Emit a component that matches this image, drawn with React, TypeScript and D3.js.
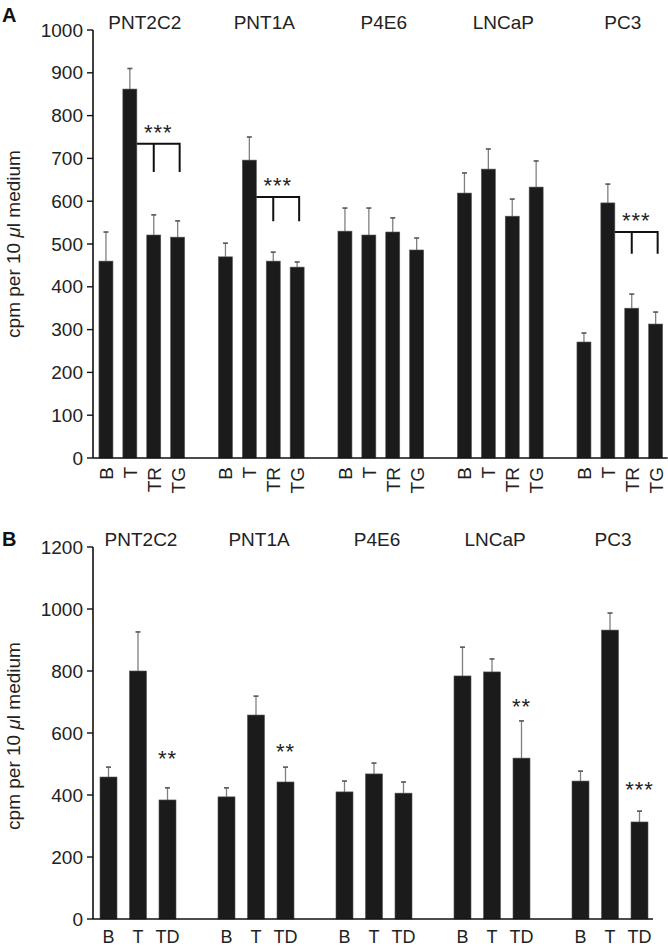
import React from "react";
import * as d3 from "d3";

// ---------- data ----------
const groups = ["PNT2C2", "PNT1A", "P4E6", "LNCaP", "PC3"];

// Panel A
const condA = ["B", "T", "TR", "TG"];
const aB = [460, 470, 530, 619, 271];
const aT = [862, 696, 521, 675, 596];
const aTR = [521, 460, 528, 565, 350];
const aTG = [516, 446, 486, 633, 313];
const aB_err = [68, 32, 54, 47, 21];
const aT_err = [48, 54, 63, 47, 44];
const aTR_err = [47, 21, 33, 40, 33];
const aTG_err = [38, 12, 28, 61, 28];
const aTicks = [0, 100, 200, 300, 400, 500, 600, 700, 800, 900, 1000];
// significance brackets (group index, bracket top value, tick bottom value)
const aBracketGroups = [0, 1, 4];
const aBracketTop = [734, 610, 528];
const aBracketBottom = [668, 553, 477];
const aBracketLabel = ["***", "***", "***"];

// Panel B
const condB = ["B", "T", "TD"];
const bB = [458, 394, 410, 784, 445];
const bT = [800, 658, 468, 797, 932];
const bTD = [384, 442, 406, 519, 313];
const bB_err = [32, 29, 35, 93, 32];
const bT_err = [126, 61, 35, 42, 55];
const bTD_err = [39, 48, 36, 120, 35];
const bTicks = [0, 200, 400, 600, 800, 1000, 1200];
const bStarGroups = [0, 1, 3, 4];
const bStarValue = [539, 561, 706, 439];
const bStarLabel = ["**", "**", "**", "***"];

const yLabelA = "cpm per 10 ";
const yLabelMu = "\u03bc";
const yLabelB = "l medium";

const FONT = "'Liberation Sans', Arial, Helvetica, sans-serif";
const TXT = "#222";
const BAR = "#1b1b1b";
const ERR = "#808080";

type Panel = {
  conds: string[];
  means: number[][]; // [cond][group]
  errs: number[][];
  ticks: number[];
  yMax: number;
  y0: number;
  y1: number;
  xStart: number;
  step: number;
  barW: number;
};

function buildBars(p: Panel) {
  const slotsPer = p.conds.length + 1;
  const n = groups.length * slotsPer;
  const pi = 1 - p.barW / p.step;
  const x = d3
    .scaleBand<number>()
    .domain(d3.range(n))
    .range([p.xStart, p.xStart + n * p.step])
    .paddingInner(pi)
    .paddingOuter(pi / 2);
  const y = d3.scaleLinear().domain([0, p.yMax]).range([p.y0, p.y1]);
  const bars: { g: number; c: number; x: number; w: number; v: number; e: number; cond: string }[] = [];
  groups.forEach((_, g) => {
    p.conds.forEach((cond, c) => {
      const slot = g * slotsPer + c;
      bars.push({ g, c, x: x(slot)!, w: x.bandwidth(), v: p.means[c][g], e: p.errs[c][g], cond });
    });
  });
  return { x, y, bars, slotsPer };
}

function YAxis({ y, ticks, x0 }: { y: d3.ScaleLinear<number, number>; ticks: number[]; x0: number }) {
  const top = y(ticks[ticks.length - 1]);
  const bot = y(0);
  return (
    <g>
      <line x1={x0} x2={x0} y1={top} y2={bot} stroke="#111" strokeWidth={1.6} />
      {ticks.map((t) => (
        <g key={t}>
          <line x1={x0 - 6} x2={x0} y1={y(t)} y2={y(t)} stroke="#111" strokeWidth={1.4} />
          <text x={x0 - 10} y={y(t)} dy="0.35em" textAnchor="end" fontSize={19} fill={TXT} fontFamily={FONT}>
            {t}
          </text>
        </g>
      ))}
    </g>
  );
}

function Bars({ bars, y }: { bars: ReturnType<typeof buildBars>["bars"]; y: d3.ScaleLinear<number, number> }) {
  return (
    <g>
      {bars.map((b, i) => {
        const cx = b.x + b.w / 2;
        return (
          <g key={i}>
            <line x1={cx} x2={cx} y1={y(b.v)} y2={y(b.v + b.e)} stroke={ERR} strokeWidth={1.3} />
            <line x1={cx - 2.5} x2={cx + 2.5} y1={y(b.v + b.e)} y2={y(b.v + b.e)} stroke="#555" strokeWidth={1.6} />
            <rect x={b.x} y={y(b.v)} width={b.w} height={y(0) - y(b.v)} fill={BAR} stroke="#555" strokeWidth={0.6} />
          </g>
        );
      })}
    </g>
  );
}

function YLabel({ x, y }: { x: number; y: number }) {
  return (
    <text transform={`translate(${x},${y}) rotate(-90)`} textAnchor="middle" fontSize={19} fontFamily={FONT} fill={TXT}>
      {yLabelA}
      <tspan fontStyle="italic">{yLabelMu}</tspan>
      {yLabelB}
    </text>
  );
}

export default function App() {
  // ---------- Panel A ----------
  const pA: Panel = {
    conds: condA,
    means: [aB, aT, aTR, aTG],
    errs: [aB_err, aT_err, aTR_err, aTG_err],
    ticks: aTicks,
    yMax: 1000,
    y0: 458,
    y1: 30,
    xStart: 94,
    step: 23.9,
    barW: 14,
  };
  const A = buildBars(pA);
  const axX = 93;

  // ---------- Panel B ----------
  const pB: Panel = {
    conds: condB,
    means: [bB, bT, bTD],
    errs: [bB_err, bT_err, bTD_err],
    ticks: bTicks,
    yMax: 1200,
    y0: 919,
    y1: 547,
    xStart: 93.75,
    step: 29.5,
    barW: 17,
  };
  const B = buildBars(pB);

  const groupCenter = (P: ReturnType<typeof buildBars>, g: number, nc: number) => {
    const first = P.bars.find((b) => b.g === g && b.c === 0)!;
    const last = P.bars.find((b) => b.g === g && b.c === nc - 1)!;
    return (first.x + last.x + last.w) / 2;
  };

  const lastA = A.bars[A.bars.length - 1];
  const lastB = B.bars[B.bars.length - 1];

  return (
    <svg width={668} height={948} style={{ position: "absolute", left: 0, top: 0, background: "#fff" }}>
      <rect width={668} height={948} fill="#fff" />
      {/* ===== Panel A ===== */}
      <text x={2} y={22} fontSize={20} fontWeight="bold" fontFamily={FONT} fill="#111">A</text>
      <YLabel x={20} y={244} />
      {groups.map((g, i) => (
        <text key={g} x={groupCenter(A, i, condA.length) + 3} y={29} textAnchor="middle" fontSize={19} fontFamily={FONT} fill={TXT}>
          {g}
        </text>
      ))}
      <Bars bars={A.bars} y={A.y} />
      <YAxis y={A.y} ticks={aTicks} x0={axX} />
      <line x1={axX} x2={lastA.x + lastA.w + 5} y1={A.y(0)} y2={A.y(0)} stroke="#111" strokeWidth={1.6} />
      {A.bars.map((b, i) => (
        <text
          key={i}
          transform={`translate(${b.x + b.w / 2 + 7},${A.y(0) + 9}) rotate(-90)`}
          textAnchor="end"
          fontSize={19}
          fontFamily={FONT}
          fill={TXT}
        >
          {b.cond}
        </text>
      ))}
      {aBracketGroups.map((g, i) => {
        const bT = A.bars.find((b) => b.g === g && b.c === 1)!;
        const bR = A.bars.find((b) => b.g === g && b.c === 2)!;
        const bG = A.bars.find((b) => b.g === g && b.c === 3)!;
        const xl = bT.x + bT.w;
        const xr = bG.x + bG.w / 2 + 2;
        const xm = bR.x + bR.w / 2;
        const yt = A.y(aBracketTop[i]);
        const yb = A.y(aBracketBottom[i]);
        return (
          <g key={g}>
            <path d={`M${xl},${yt}H${xr}V${yb}M${xm},${yt}V${yb}`} fill="none" stroke="#111" strokeWidth={2} />
            <text x={(xl + xr) / 2} y={yt - 4} textAnchor="middle" fontSize={22} fontFamily={FONT} fill={TXT} letterSpacing={1}>
              {aBracketLabel[i]}
            </text>
          </g>
        );
      })}

      {/* ===== Panel B ===== */}
      <text x={2} y={546} fontSize={20} fontWeight="bold" fontFamily={FONT} fill="#111">B</text>
      <YLabel x={20} y={736} />
      {groups.map((g, i) => (
        <text key={g} x={groupCenter(B, i, condB.length) + 3} y={546} textAnchor="middle" fontSize={19} fontFamily={FONT} fill={TXT}>
          {g}
        </text>
      ))}
      <Bars bars={B.bars} y={B.y} />
      <YAxis y={B.y} ticks={bTicks} x0={axX} />
      <line x1={axX} x2={lastB.x + lastB.w + 5} y1={B.y(0)} y2={B.y(0)} stroke="#111" strokeWidth={1.6} />
      {B.bars.map((b, i) => (
        <text key={i} x={b.x + b.w / 2} y={943} textAnchor="middle" fontSize={18} fontFamily={FONT} fill={TXT}>
          {b.cond}
        </text>
      ))}
      {bStarGroups.map((g, i) => {
        const bd = B.bars.find((b) => b.g === g && b.c === 2)!;
        return (
          <text
            key={g}
            x={bd.x + bd.w / 2}
            y={B.y(bStarValue[i]) + 14}
            textAnchor="middle"
            fontSize={22}
            fontFamily={FONT}
            fill={TXT}
            letterSpacing={1}
          >
            {bStarLabel[i]}
          </text>
        );
      })}
    </svg>
  );
}
